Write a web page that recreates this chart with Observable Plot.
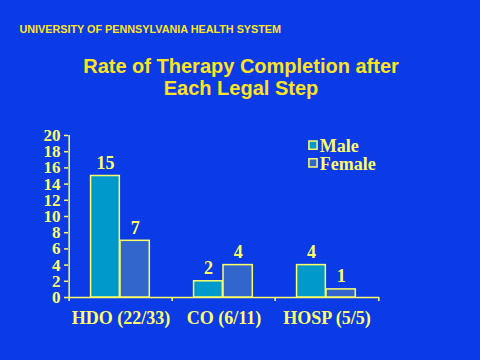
<!DOCTYPE html>
<html>
<head>
<meta charset="utf-8">
<script src="https://cdn.jsdelivr.net/npm/d3@7"></script>
<script src="https://cdn.jsdelivr.net/npm/@observablehq/plot@0.6"></script>
<style>
  html, body { margin: 0; padding: 0; background: #0A3BE6; }
  #chart svg { display: block; }
</style>
</head>
<body>
<div id="chart"></div>
<script>
const categories = ["HDO (22/33)", "CO (6/11)", "HOSP (5/5)"];
const series = ["Male", "Female"];
const maleValues = [15, 2, 4];
const femaleValues = [7, 4, 1];
const yTicks = [0, 2, 4, 6, 8, 10, 12, 14, 16, 18, 20];
const header = "UNIVERSITY OF PENNSYLVANIA HEALTH SYSTEM";
const titleLines = ["Rate of Therapy Completion after", "Each Legal Step"];

const rows = [];
categories.forEach((c, i) => {
  rows.push({category: c, sex: "Male", value: maleValues[i]});
  rows.push({category: c, sex: "Female", value: femaleValues[i]});
});

const W = 480, H = 360;
const mL = 68, mR = 101, mT = 135, mB = 63;
const bw = (W - mL - mR) / categories.length;

const BG = "#0A3BE6";
const YEL = "#FFFF66";
const TITLE = "#FFE41C";
const colors = {Male: "#0099CC", Female: "#3366CC"};
const serif = "'Liberation Serif', 'Times New Roman', serif";
const sans = "'Liberation Sans', Arial, sans-serif";

// bar placement within each band (fractions of band width)
const place = {
  Male:   {insetLeft: 0.208 * bw, insetRight: bw - 0.208 * bw - 0.284 * bw, dx: -15.6},
  Female: {insetLeft: 0.492 * bw, insetRight: bw - 0.492 * bw - 0.289 * bw, dx: 14.2}
};

const marks = [];

// axis lines and boundary ticks
marks.push(Plot.ruleY([0], {stroke: YEL, strokeWidth: 1.5}));
marks.push(Plot.ruleX([categories[0]], {x: d => d, dx: -bw / 2, y1: -0.5, y2: 20, stroke: YEL, strokeWidth: 1.5}));
marks.push(Plot.ruleX(categories.slice(1), {x: d => d, dx: -bw / 2, y1: -0.5, y2: 0, stroke: YEL, strokeWidth: 1.5}));
marks.push(Plot.ruleX([categories[categories.length - 1]], {x: d => d, dx: bw / 2, y1: -0.5, y2: 0, stroke: YEL, strokeWidth: 1.5}));

for (const s of series) {
  const data = rows.filter(r => r.sex === s);
  marks.push(Plot.barY(data, {
    x: "category", y: "value",
    fill: colors[s], stroke: YEL, strokeWidth: 1.5,
    insetLeft: place[s].insetLeft, insetRight: place[s].insetRight
  }));
  marks.push(Plot.text(data, {
    x: "category", y: "value", text: d => String(d.value),
    dx: place[s].dx, dy: -7, lineAnchor: "bottom",
    fill: YEL, fontFamily: serif, fontWeight: "bold", fontSize: 18
  }));
}

// axes
marks.push(Plot.axisY({
  ticks: yTicks, tickSize: 4, tickPadding: 4, stroke: YEL, fill: YEL,
  fontFamily: serif, fontWeight: "bold", fontSize: 17, label: null, strokeWidth: 1.5
}));
marks.push(Plot.axisX({
  tickSize: 0, tickPadding: 14, fill: YEL,
  fontFamily: serif, fontWeight: "bold", fontSize: 18, label: null
}));

// legend
series.forEach((s, i) => {
  marks.push(Plot.dot([s], {
    frameAnchor: "top-right", dx: -66.5, dy: 9.7 + i * 17.6,
    symbol: "square", r: 4.6, fill: colors[s], stroke: YEL, strokeWidth: 1.5
  }));
  marks.push(Plot.text([s], {
    frameAnchor: "top-right", dx: -59.7, dy: 16.7 + i * 17.4,
    text: d => d, textAnchor: "start", lineAnchor: "bottom",
    fill: YEL, fontFamily: serif, fontWeight: "bold", fontSize: 18
  }));
});

// titles
marks.push(Plot.text([header], {
  frameAnchor: "top-left", dx: 19 - mL, dy: 32 - mT, text: d => d,
  textAnchor: "start", lineAnchor: "bottom",
  fill: TITLE, fontFamily: sans, fontWeight: "bold", fontSize: 10.8
}));
titleLines.forEach((t, i) => {
  marks.push(Plot.text([t], {
    frameAnchor: "top", dx: 240.5 - (mL + (W - mL - mR) / 2), dy: (i === 0 ? 72.7 : 94) - mT,
    text: d => d, lineAnchor: "bottom",
    fill: TITLE, fontFamily: sans, fontWeight: "bold", fontSize: 20
  }));
});

const chart = Plot.plot({
  width: W, height: H,
  marginLeft: mL, marginRight: mR, marginTop: mT, marginBottom: mB,
  style: {background: BG, color: YEL, overflow: "visible"},
  x: {type: "band", domain: categories, padding: 0},
  y: {domain: [0, 20]},
  marks
});
document.getElementById("chart").appendChild(chart);
</script>
</body>
</html>
